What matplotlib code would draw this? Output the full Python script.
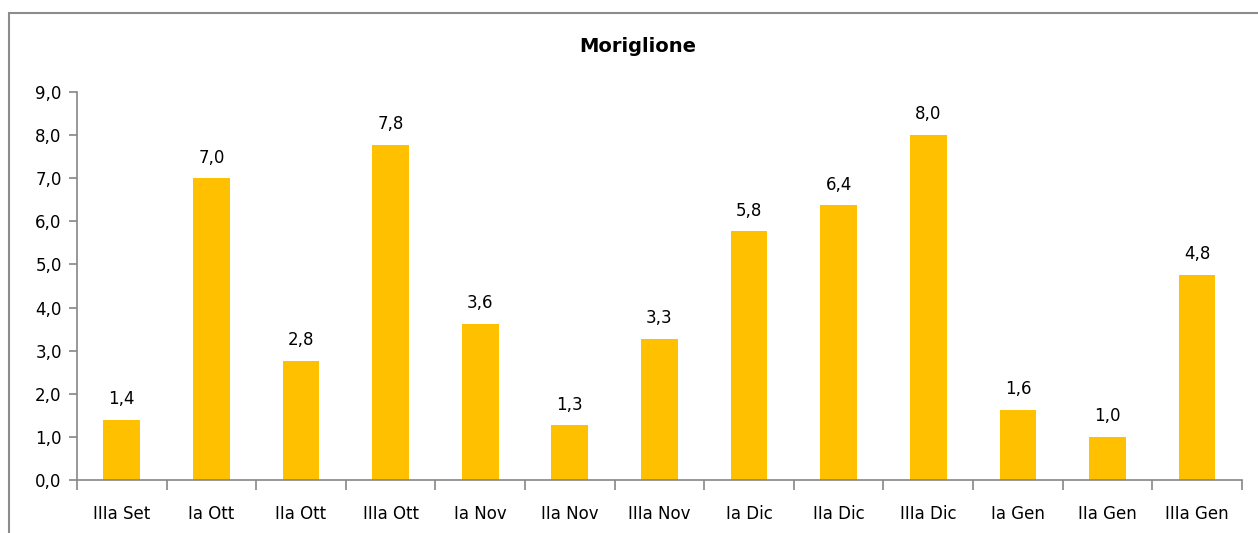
import numpy as np
import matplotlib.pyplot as plt
from matplotlib.patches import Rectangle

categories = ['IIIa Set', 'Ia Ott', 'IIa Ott', 'IIIa Ott', 'Ia Nov', 'IIa Nov', 'IIIa Nov',
              'Ia Dic', 'IIa Dic', 'IIIa Dic', 'Ia Gen', 'IIa Gen', 'IIIa Gen']
values = [1.4, 7.0, 2.76, 7.77, 3.63, 1.27, 3.27, 5.77, 6.37, 8.0, 1.63, 1.0, 4.76]

grey = '#868686'
bar_color = '#FFC000'

fig = plt.figure(figsize=(12.58, 5.33), dpi=100)
ax = fig.add_axes([0.0612, 0.0994, 0.926, 0.728])

x = np.arange(len(categories))
ax.bar(x, values, width=0.41, color=bar_color, zorder=2)

for xi, v in zip(x, values):
    ax.text(xi, v + 0.27, f'{v:.1f}'.replace('.', ','), ha='center', va='bottom',
            fontsize=12, color='black')

ax.set_xlim(-0.5, len(categories) - 0.5)
ax.set_ylim(0, 9)
ax.set_yticks(np.arange(0, 10, 1))
ax.set_yticklabels([f'{t:.1f}'.replace('.', ',') for t in np.arange(0, 10, 1)])
ax.set_xticks(x)
ax.set_xticklabels(categories)
ax.set_xticks(np.arange(-0.5, len(categories), 1), minor=True)

ax.tick_params(axis='x', which='major', length=0, pad=18, labelsize=12)
ax.tick_params(axis='x', which='minor', length=7, color=grey, width=1.2, direction='out')
ax.tick_params(axis='y', length=6, color=grey, width=1.2, pad=5, labelsize=12)

for s in ['top', 'right']:
    ax.spines[s].set_visible(False)
for s in ['left', 'bottom']:
    ax.spines[s].set_color(grey)
    ax.spines[s].set_linewidth(1.2)

fig.text(638 / 1258, 1 - 46 / 533, 'Moriglione', fontsize=14, fontweight='bold',
         ha='center', va='center')

# outer chart border
fig.patches.append(Rectangle((9 / 1258, -0.05), 1.1, (533 - 13) / 533 + 0.05,
                             transform=fig.transFigure, fill=False,
                             edgecolor='#8c8c8c', linewidth=1.5))

fig.savefig('out.png', dpi=100)
